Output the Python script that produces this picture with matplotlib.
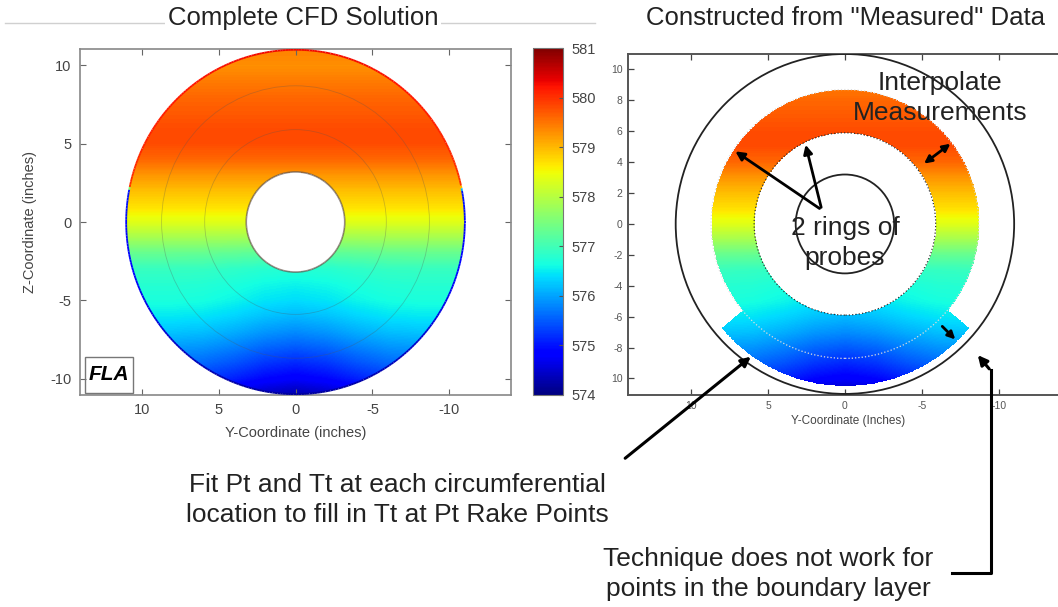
import numpy as np
import matplotlib
matplotlib.use("Agg")
import matplotlib.pyplot as plt
from matplotlib.patches import Circle, FancyArrowPatch, Rectangle
from matplotlib.collections import LineCollection
from matplotlib.lines import Line2D

plt.rcParams['font.family'] = ['Liberation Sans', 'DejaVu Sans']
plt.rcParams['axes.unicode_minus'] = False

# ------------------------------------------------------------
# values
# ------------------------------------------------------------
# total temperature along the vertical (Z) direction
z_pts = [-11, -10, -9, -8, -7, -6, -5, -4, -3, -2, -1, 0,
         1, 2, 3, 4, 5, 6, 7, 8, 9, 10, 11]
t_pts = [574.3, 574.8, 575.15, 575.5, 575.85, 576.15, 576.4, 576.55, 576.75, 577.2, 577.8, 578.35,
         578.7, 578.95, 579.25, 579.6, 579.8, 579.8, 579.7, 579.6, 579.45, 579.3, 579.4]
# warmer toward the sides in the lower half
side_y = [0, 2, 4, 6, 8, 11]
side_dt = [0.0, 0.1, 0.3, 0.45, 0.5, 0.5]
# thin boundary-layer rim on the outer wall
rim_z = [-11, -3, 2.0, 2.3, 11]
rim_t = [574.2, 574.8, 575.0, 580.0, 580.3]

r_hub, r_tip = 3.2, 11.0            # hub / casing radii (inches)
r_ring_in, r_ring_out = 5.9, 8.7    # the two probe rings
r_seg_out = 10.5                    # extrapolated bottom segment
seg_half_angle = 50                 # degrees either side of bottom

t_min, t_max = 574, 581
cbar_ticks = [574, 575, 576, 577, 578, 579, 580, 581]
left_ticks = [10, 5, 0, -5, -10]
right_xticks = [10, 5, 0, -5, -10]
right_yticks = [10, 8, 6, 4, 2, 0, -2, -4, -6, -8, -10]
right_ylabels = ['10', '8', '6', '4', '2', '0', '-2', '-4', '-6', '-8', '10']

W, H = 1058, 607


def px(x, y):
    # pixel position (from top-left) -> figure fraction
    return (x / W, 1 - y / H)


def field(Y, Z):
    T = np.interp(Z, z_pts, t_pts)
    w = np.clip(-Z / 9.0, 0, 1)
    T = T + np.interp(np.abs(Y), side_y, side_dt) * w
    return T


g = np.linspace(-11.2, 11.2, 900)
Y, Z = np.meshgrid(g, g)
R = np.hypot(Y, Z)
T = field(Y, Z)
ext = [-11.2, 11.2, -11.2, 11.2]

fig = plt.figure(figsize=(W / 100, H / 100), dpi=100)

# ------------------------------------------------------------
# left: complete CFD solution
# ------------------------------------------------------------
ax1 = fig.add_axes([80 / W, 1 - 395 / H, 431 / W, 346 / H])
T_full = np.ma.masked_where((R < r_hub) | (R > r_tip), T)
im = ax1.imshow(T_full, extent=ext, origin='lower', cmap='jet',
                vmin=t_min, vmax=t_max, interpolation='nearest', zorder=1)
ax1.set_aspect('auto')
ax1.set_xlim(14.0, -14.0)
ax1.set_ylim(-11.05, 11.05)

for r in (r_ring_in, r_ring_out):
    ax1.add_patch(Circle((0, 0), r, fill=False, ec='#555555', lw=0.6, alpha=0.3, zorder=2))
ax1.add_patch(Circle((0, 0), r_hub, fill=False, ec='#6b5a50', lw=1.2, alpha=0.7, zorder=2))

th = np.linspace(0, 2 * np.pi, 400)
rx, rz = r_tip * np.cos(th), r_tip * np.sin(th)
segs = np.stack([np.column_stack([rx[:-1], rz[:-1]]), np.column_stack([rx[1:], rz[1:]])], axis=1)
rim = LineCollection(segs, cmap='jet', norm=plt.Normalize(t_min, t_max), lw=1.3, zorder=3)
rim.set_array(np.interp((rz[:-1] + rz[1:]) / 2, rim_z, rim_t))
ax1.add_collection(rim)

ax1.set_xticks(left_ticks)
ax1.set_yticks(left_ticks)
ax1.tick_params(direction='in', top=True, right=True, length=4, width=0.8,
                colors='#666666', labelcolor='#444444', labelsize=10.5, pad=6)
for s in ax1.spines.values():
    s.set_color('#888888')
    s.set_linewidth(1.2)
ax1.set_xlabel('Y-Coordinate (inches)', fontsize=10.5, color='#444444', labelpad=6)
ax1.set_ylabel('Z-Coordinate (inches)', fontsize=10.5, color='#444444', labelpad=10)

ax1.add_patch(Rectangle((0.012, 0.006), 0.111, 0.104, transform=ax1.transAxes,
                        fill=False, ec='#777777', lw=1.0, zorder=4))
ax1.text(0.0675, 0.058, 'FLA', transform=ax1.transAxes, ha='center', va='center',
         fontsize=15, fontweight='bold', fontstyle='italic', color='black', zorder=5)

cax = fig.add_axes([533 / W, 1 - 395 / H, 30 / W, 347 / H])
cb = fig.colorbar(im, cax=cax, ticks=cbar_ticks)
cb.outline.set_edgecolor('#777777')
cax.tick_params(direction='in', length=3, width=0.8, colors='#555555',
                labelcolor='#444444', labelsize=10.5, pad=6)
cax.set_yticklabels([str(t) for t in cbar_ticks])

# ------------------------------------------------------------
# right: constructed from "measured" data
# ------------------------------------------------------------
ax2 = fig.add_axes([628 / W, 1 - 395 / H, 440 / W, 341 / H])
ang = np.degrees(np.arctan2(np.abs(Y), -Z))
band = (R >= r_ring_in) & (R <= r_ring_out)
seg = (R > r_ring_out) & (R <= r_seg_out) & (ang <= seg_half_angle)
T_meas = np.ma.masked_where(~(band | seg), T)
ax2.imshow(T_meas, extent=ext, origin='lower', cmap='jet',
           vmin=t_min, vmax=t_max, interpolation='nearest', zorder=1)
ax2.set_aspect('auto')
ax2.set_xlim(14.1, -14.5)
ax2.set_ylim(-11.07, 11.0)

for r in (r_hub, r_tip):
    ax2.add_patch(Circle((0, 0), r, fill=False, ec='#222222', lw=1.3, zorder=3))
ax2.add_patch(Circle((0, 0), r_ring_in, fill=False, ec='#333333', lw=0.9, ls=':', zorder=3))
ax2.add_patch(Circle((0, 0), r_ring_out, fill=False, ec='#dddddd', lw=0.9, ls=':', zorder=3))

ax2.set_xticks(right_xticks)
ax2.set_yticks(right_yticks)
ax2.set_yticklabels(right_ylabels)
ax2.tick_params(direction='in', top=True, length=4, width=0.9,
                colors='#444444', labelcolor='#555555', labelsize=7.5, pad=4)
for s in ax2.spines.values():
    s.set_color('#555555')
    s.set_linewidth(1.4)
ax2.set_xlabel('Y-Coordinate (Inches)', fontsize=8.5, color='#444444', labelpad=3)

# arrows inside the right panel
arrow_kw = dict(arrowstyle='-|>', mutation_scale=13, color='black', lw=2.0, zorder=6)
ax2.add_patch(FancyArrowPatch((1.5, 0.9), (7.27, 4.8), **arrow_kw))
ax2.add_patch(FancyArrowPatch((1.5, 0.9), (2.6, 5.3), **arrow_kw))
ax2.add_patch(FancyArrowPatch((-5.0, 3.8), (-7.0, 5.3), arrowstyle='<|-|>', mutation_scale=11,
                              color='black', lw=2.0, zorder=6))
ax2.add_patch(FancyArrowPatch((-6.2, -6.5), (-7.3, -7.6), arrowstyle='-|>', mutation_scale=11,
                              color='black', lw=2.0, zorder=6))

# ------------------------------------------------------------
# slide texts and callouts
# ------------------------------------------------------------
fig.add_artist(Line2D([px(5, 23)[0], px(595, 23)[0]], [px(5, 23)[1]] * 2,
                      color='#d0d0d0', lw=1.0, zorder=0))
fig.text(*px(303, 18), 'Complete CFD Solution', ha='center', va='center', fontsize=18.5,
         color='#222222', bbox=dict(fc='white', ec='none', pad=2))
fig.text(*px(845, 18), 'Constructed from "Measured" Data', ha='center', va='center',
         fontsize=18.5, color='#222222')

fig.text(*px(940, 98), 'Interpolate\nMeasurements', ha='center', va='center',
         fontsize=19, color='#222222', linespacing=1.3, zorder=7)
fig.text(*px(845, 243), '2 rings of\nprobes', ha='center', va='center',
         fontsize=19, color='#222222', linespacing=1.3, zorder=7)

fig.text(*px(397, 500), 'Fit Pt and Tt at each circumferential\nlocation to fill in Tt at Pt Rake Points',
         ha='center', va='center', fontsize=19, color='#222222', linespacing=1.3)
fig.text(*px(768, 574), 'Technique does not work for\npoints in the boundary layer',
         ha='center', va='center', fontsize=19, color='#222222', linespacing=1.35)

fig_arrow = dict(arrowstyle='-|>', mutation_scale=14, color='black', lw=2.2,
                 transform=fig.transFigure, zorder=8)
fig.add_artist(FancyArrowPatch(px(623, 460), px(753, 355), **fig_arrow))
bx = [px(952, 573)[0], px(991, 573)[0], px(991, 370)[0]]
by = [px(952, 573)[1], px(991, 573)[1], px(991, 370)[1]]
fig.add_artist(Line2D(bx, by, color='black', lw=2.2, zorder=8))
fig.add_artist(FancyArrowPatch(px(991, 371), px(976, 353), **fig_arrow))

fig.savefig('out.png', dpi=100)
